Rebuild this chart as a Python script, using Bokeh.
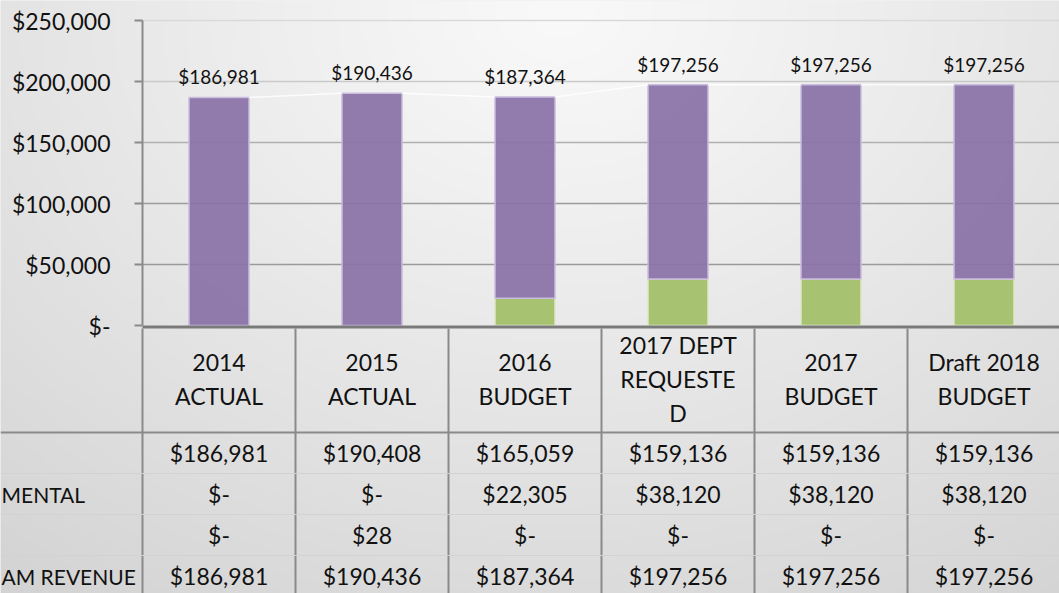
import numpy as np
from bokeh.plotting import figure
from bokeh.models import Range1d, FixedTicker
from bokeh.core.properties import value
from bokeh.embed import file_html
from bokeh.resources import INLINE

# ---------------- data ----------------
categories = ["2014\nACTUAL", "2015\nACTUAL", "2016\nBUDGET",
              "2017 DEPT\nREQUESTE\nD", "2017\nBUDGET", "Draft 2018\nBUDGET"]
row_labels = ["", "MENTAL", "", "AM REVENUE"]          # visible (cut) row titles
general_fund = [186981, 190408, 165059, 159136, 159136, 159136]
intergovernmental = [0, 0, 22305, 38120, 38120, 38120]
other_revenue = [0, 28, 0, 0, 0, 0]
total_revenue = [186981, 190436, 187364, 197256, 197256, 197256]
y_ticks = [0, 50000, 100000, 150000, 200000, 250000]
y_tick_labels = ["$-", "$50,000", "$100,000", "$150,000", "$200,000", "$250,000"]

# ---------------- layout constants ----------------
W, H = 1059, 593
COL_PX = 153          # width of one category column
X0_PX = 142           # left edge of first column (figure px)
ZERO_PX = 325         # y pixel of value 0 (from top)
PX_PER_VAL = 61 / 50000
FONT = value("Lato")
TXT = "#111111"

x_start, x_end = -X0_PX / COL_PX, (W - X0_PX) / COL_PX
y_start, y_end = -(H - ZERO_PX) / PX_PER_VAL, ZERO_PX / PX_PER_VAL
n = len(categories)
centers = [i + 0.5 for i in range(n)]

p = figure(width=W, height=H, x_range=Range1d(x_start, x_end),
           y_range=Range1d(y_start, y_end), output_backend="svg",
           toolbar_location=None, x_axis_location=None,
           min_border=0, min_border_left=0, min_border_right=0,
           min_border_top=0, min_border_bottom=0)
p.extra_y_ranges = {"tbl": Range1d(-(H - ZERO_PX), ZERO_PX)}
p.outline_line_color = None
p.background_fill_color = "#E6E6E6"
p.border_fill_color = "#E6E6E6"
p.xgrid.visible = False
p.ygrid.visible = False

# ---------------- background gradient ----------------
ny, nx = 160, 280
gx = np.linspace(0, W, nx)
gy = np.linspace(H, 0, ny)
GX, GY = np.meshgrid(gx, gy)
t = np.clip(np.sqrt(((GX - 560) / 1000) ** 2 + ((GY - 10) / 780) ** 2), 0, 1) ** 1.1
c = (249 - t * (249 - 208)).astype(np.uint8)
img = np.empty((ny, nx), dtype=np.uint32)
v = img.view(np.uint8).reshape(ny, nx, 4)
v[..., 0] = c
v[..., 1] = c
v[..., 2] = c
v[..., 3] = 255
p.image_rgba(image=[img], x=x_start, y=y_start, dw=x_end - x_start, dh=y_end - y_start)

# ---------------- grid lines ----------------
grid_colors = ["#9A9A9A", "#9C9C9C", "#B0B0B0", "#CACACA", "#D9D9D9"]
gt = y_ticks[1:]
p.segment(x0=[0] * len(gt), x1=[x_end] * len(gt), y0=gt, y1=gt,
          line_color=grid_colors, line_width=1.6)

# ---------------- stacked bars ----------------
bw = 60 / COL_PX
green_top = intergovernmental
other_top = [a + b for a, b in zip(intergovernmental, other_revenue)]
p.vbar(x=centers, width=bw, bottom=0, top=green_top,
       fill_color="#A3C06A", fill_alpha=0.95, line_color="#DDE8C8", line_width=1.5)
p.vbar(x=centers, width=bw, bottom=green_top, top=other_top,
       fill_color="#8FB3DA", line_color=None)
p.vbar(x=centers, width=bw, bottom=other_top, top=[o + g for o, g in zip(other_top, general_fund)],
       fill_color="#8A72A8", fill_alpha=0.93, line_color="#C9BCDD", line_width=1.5)

# series lines connecting the bar tops
p.segment(x0=[c_ + bw / 2 for c_ in centers[:-1]], x1=[c_ - bw / 2 for c_ in centers[1:]],
          y0=total_revenue[:-1], y1=total_revenue[1:],
          line_color="white", line_width=1.5, line_alpha=0.8)

# data labels
p.text(x=centers, y=total_revenue, text=[f"${v_:,}" for v_ in total_revenue],
       text_align="center", text_baseline="bottom", y_offset=-9,
       text_font=FONT, text_font_size="19px", text_color=TXT)

# ---------------- y axis ----------------
ax = p.yaxis[0]
ax.fixed_location = 0
ax.ticker = FixedTicker(ticks=y_ticks)
ax.major_label_overrides = dict(zip(y_ticks, y_tick_labels))
ax.bounds = (0, 250000)
ax.axis_line_color = "#8A8A8A"
ax.axis_line_width = 2
ax.major_tick_line_color = "#8A8A8A"
ax.major_tick_line_width = 2
ax.major_tick_out = 8
ax.major_tick_in = 0
ax.minor_tick_line_color = None
ax.major_label_standoff = 24
ax.major_label_text_font = "Lato"
ax.major_label_text_font_size = "23px"
ax.major_label_text_color = TXT

# ---------------- table ----------------
HEAD_H = 107
ROW_H = 41
tbl_bottom = -(H - ZERO_PX)
# x-axis base line
p.segment(x0=[0], x1=[x_end], y0=[-1.5], y1=[-1.5], y_range_name="tbl",
          line_color="#7A7A7A", line_width=3)
# vertical lines
p.segment(x0=list(range(n + 1)), x1=list(range(n + 1)), y0=[-3] * (n + 1),
          y1=[tbl_bottom] * (n + 1), y_range_name="tbl",
          line_color="#8A8A8A", line_width=2)
# header bottom line
p.segment(x0=[x_start], x1=[x_end], y0=[-HEAD_H], y1=[-HEAD_H], y_range_name="tbl",
          line_color="#8A8A8A", line_width=2)
# faint row lines
rl = [-(HEAD_H + ROW_H * k) for k in (1, 2, 3)]
p.segment(x0=[x_start] * 3, x1=[x_end] * 3, y0=rl, y1=rl, y_range_name="tbl",
          line_color="#D2D2D2", line_width=1)

# header text
p.text(x=centers, y=[-HEAD_H / 2] * n, text=categories, y_range_name="tbl",
       text_align="center", text_baseline="middle", text_line_height=1.2,
       text_font=FONT, text_font_size="23px", text_color=TXT)

def fmt(v_):
    return "$-" if v_ == 0 else f"${v_:,}"

rows = [general_fund, intergovernmental, other_revenue, total_revenue]
for r, vals in enumerate(rows):
    yy = -(HEAD_H + ROW_H / 2 + ROW_H * r)
    p.text(x=centers, y=[yy] * n, text=[fmt(v_) for v_ in vals], y_range_name="tbl",
           text_align="center", text_baseline="middle",
           text_font=FONT, text_font_size="23px", text_color=TXT)

# row titles (left part is outside the picture in the original; show the visible part)
for r, lab in enumerate(row_labels):
    if not lab:
        continue
    yy = -(HEAD_H + ROW_H / 2 + ROW_H * r)
    p.text(x=[x_start], y=[yy], text=[lab], y_range_name="tbl", x_offset=1,
           text_align="left", text_baseline="middle",
           text_font=FONT, text_font_size="21px", text_color=TXT)

open("out.html", "w").write(file_html(p, INLINE))
